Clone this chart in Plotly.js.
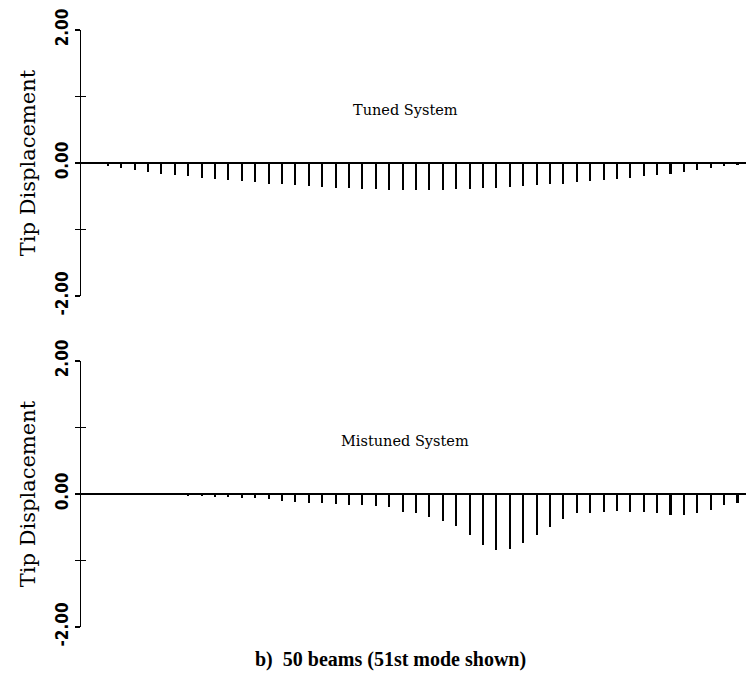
<!DOCTYPE html>
<html>
<head>
<meta charset="utf-8">
<script src="https://cdn.plot.ly/plotly-3.0.1.min.js"></script>
<style>html,body{margin:0;padding:0;background:#fff;}#chart{width:746px;height:676px;}</style>
</head>
<body>
<div id="chart"></div>
<script>
// beam index
const beams = [1,2,3,4,5,6,7,8,9,10,11,12,13,14,15,16,17,18,19,20,21,22,23,24,25,
               26,27,28,29,30,31,32,33,34,35,36,37,38,39,40,41,42,43,44,45,46,47,48,49];
// tuned system tip displacement
const tuned = [-0.02,-0.05,-0.08,-0.11,-0.135,-0.16,-0.18,-0.20,-0.22,-0.24,-0.26,-0.275,-0.29,-0.31,-0.32,
               -0.335,-0.345,-0.36,-0.37,-0.38,-0.39,-0.395,-0.40,-0.405,-0.41,-0.405,-0.40,-0.395,-0.39,-0.38,
               -0.37,-0.36,-0.35,-0.335,-0.32,-0.31,-0.29,-0.275,-0.26,-0.24,-0.22,-0.20,-0.18,-0.16,-0.135,
               -0.11,-0.08,-0.05,-0.03];
// mistuned system tip displacement
const mistuned = [-0.005,-0.005,-0.01,-0.01,-0.015,-0.015,-0.02,-0.025,-0.03,-0.04,-0.05,-0.055,-0.065,-0.08,-0.10,
                  -0.115,-0.13,-0.14,-0.15,-0.16,-0.17,-0.18,-0.20,-0.27,-0.29,-0.34,-0.40,-0.48,-0.62,-0.76,
                  -0.84,-0.82,-0.74,-0.62,-0.49,-0.37,-0.29,-0.28,-0.265,-0.255,-0.265,-0.265,-0.29,-0.315,-0.315,
                  -0.29,-0.24,-0.165,-0.14];
const yTickVals = [-2,-1,0,1,2];
const yTickText = ['-2.00','','0.00','','2.00'];
const panelLabels = ['Tuned System','Mistuned System'];
const yTitle = 'Tip Displacement';
const caption = 'b)  50 beams (51st mode shown)';

const serif = '"DejaVu Serif", "Liberation Serif", serif';
const tickFont = {family:'"Liberation Sans Narrow", "DejaVu Sans Condensed", "Liberation Sans", sans-serif', size:17, color:'#000', weight:'bold'};

const barStyle = {color:'#000'};
const traces = [
  {type:'bar', x:beams, y:tuned, xaxis:'x', yaxis:'y', width:0.16, marker:barStyle, hoverinfo:'skip'},
  {type:'bar', x:beams, y:mistuned, xaxis:'x2', yaxis:'y2', width:0.16, marker:barStyle, hoverinfo:'skip'},
  {type:'scatter', x:[null], y:[null], xaxis:'x', yaxis:'y3', hoverinfo:'skip'},
  {type:'scatter', x:[null], y:[null], xaxis:'x2', yaxis:'y4', hoverinfo:'skip'}
];

const xr = [0, 49.63];
function xax(anchor){ return {range:xr, domain:[0,1], anchor:anchor, visible:false, fixedrange:true}; }
function yax(dom, anchorX){
  return {range:[-2,2], domain:dom, anchor:anchorX, showline:true, linecolor:'#000', linewidth:1.5,
    ticks:'outside', ticklen:5, tickwidth:1.5, tickcolor:'#000',
    tickvals:yTickVals, ticktext:yTickText, tickangle:-90, tickfont:tickFont,
    showgrid:false, zeroline:true, zerolinecolor:'#000', zerolinewidth:2,
    title:{text:yTitle, font:{family:serif, size:21, color:'#000'}, standoff:10}};
}
function yOver(dom, anchorX, over){
  return {range:[-2,2], domain:dom, anchor:anchorX, overlaying:over, showline:false,
    ticks:'inside', ticklen:5, tickwidth:1.5, tickcolor:'#000', tickvals:yTickVals,
    showticklabels:false, showgrid:false, zeroline:false};
}
const topDom = [0.5544, 1];
const botDom = [0, 0.4456];

const layout = {
  width:746, height:676,
  margin:{l:81, r:0, t:30, b:49},
  paper_bgcolor:'#fff', plot_bgcolor:'rgba(0,0,0,0)',
  showlegend:false, bargap:0,
  xaxis:xax('y'), xaxis2:xax('y2'),
  yaxis:yax(topDom,'x'), yaxis2:yax(botDom,'x2'),
  yaxis3:yOver(topDom,'x','y'), yaxis4:yOver(botDom,'x2','y2'),
  annotations:[
    {text:panelLabels[0], x:24.2, y:0.8, xref:'x', yref:'y', showarrow:false, font:{family:serif, size:14.5, color:'#000'}},
    {text:panelLabels[1], x:24.2, y:0.8, xref:'x2', yref:'y2', showarrow:false, font:{family:serif, size:14.5, color:'#000'}},
    {text:'<b>'+caption+'</b>', x:0.465, y:-0.055, xref:'paper', yref:'paper', yanchor:'middle', showarrow:false, font:{family:'"Liberation Serif", serif', size:20, color:'#000'}}
  ]
};
Plotly.newPlot('chart', traces, layout, {staticPlot:true, displayModeBar:false});
</script>
</body>
</html>
